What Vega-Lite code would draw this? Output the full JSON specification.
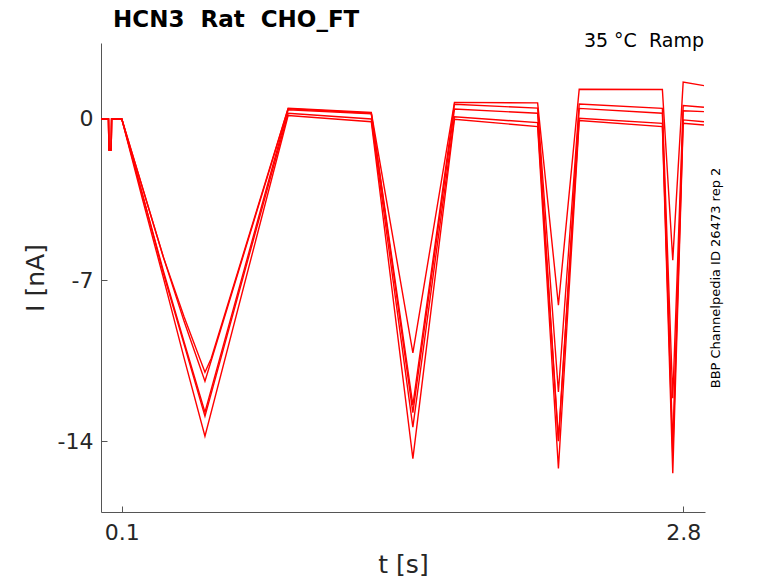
{
  "$schema": "https://vega.github.io/schema/vega-lite/v6.json",
  "width": 604,
  "height": 469,
  "autosize": "none",
  "padding": {"left": 101, "top": 43, "right": 73, "bottom": 71},
  "background": "white",
  "data": {
    "values": [
      {"trace": "A", "t": 0, "I": 0}, {"trace": "A", "t": 0.036, "I": 0}, {"trace": "A", "t": 0.038, "I": -1.35}, {"trace": "A", "t": 0.049, "I": -1.35}, {"trace": "A", "t": 0.051, "I": 0},
      {"trace": "A", "t": 0.1, "I": 0}, {"trace": "A", "t": 0.2, "I": -3.0}, {"trace": "A", "t": 0.3, "I": -6.0}, {"trace": "A", "t": 0.4, "I": -8.6}, {"trace": "A", "t": 0.5, "I": -11.0},
      {"trace": "A", "t": 0.53, "I": -10.4}, {"trace": "A", "t": 0.9, "I": 0.47}, {"trace": "A", "t": 1.3, "I": 0.28}, {"trace": "A", "t": 1.5, "I": -10.16}, {"trace": "A", "t": 1.7, "I": 0.72}, {"trace": "A", "t": 2.1, "I": 0.7},
      {"trace": "A", "t": 2.2, "I": -8.09}, {"trace": "A", "t": 2.3, "I": 1.29}, {"trace": "A", "t": 2.7, "I": 1.28}, {"trace": "A", "t": 2.75, "I": -6.13}, {"trace": "A", "t": 2.8, "I": 1.6}, {"trace": "A", "t": 2.9, "I": 1.45},

      {"trace": "B", "t": 0, "I": 0}, {"trace": "B", "t": 0.036, "I": 0}, {"trace": "B", "t": 0.038, "I": -1.3}, {"trace": "B", "t": 0.049, "I": -1.3}, {"trace": "B", "t": 0.051, "I": 0},
      {"trace": "B", "t": 0.1, "I": 0}, {"trace": "B", "t": 0.2, "I": -3.0}, {"trace": "B", "t": 0.3, "I": -6.0}, {"trace": "B", "t": 0.4, "I": -8.8}, {"trace": "B", "t": 0.5, "I": -11.39},
      {"trace": "B", "t": 0.9, "I": 0.44}, {"trace": "B", "t": 1.3, "I": 0.25}, {"trace": "B", "t": 1.5, "I": -12.43}, {"trace": "B", "t": 1.7, "I": 0.64}, {"trace": "B", "t": 2.1, "I": 0.47},
      {"trace": "B", "t": 2.2, "I": -11.86}, {"trace": "B", "t": 2.3, "I": 0.65}, {"trace": "B", "t": 2.7, "I": 0.46}, {"trace": "B", "t": 2.75, "I": -12.13}, {"trace": "B", "t": 2.8, "I": 0.58}, {"trace": "B", "t": 2.9, "I": 0.51},

      {"trace": "C", "t": 0, "I": 0}, {"trace": "C", "t": 0.036, "I": 0}, {"trace": "C", "t": 0.038, "I": -1.3}, {"trace": "C", "t": 0.049, "I": -1.3}, {"trace": "C", "t": 0.051, "I": 0},
      {"trace": "C", "t": 0.1, "I": 0}, {"trace": "C", "t": 0.2, "I": -3.3}, {"trace": "C", "t": 0.3, "I": -6.6}, {"trace": "C", "t": 0.4, "I": -9.7}, {"trace": "C", "t": 0.5, "I": -12.74},
      {"trace": "C", "t": 0.9, "I": 0.4}, {"trace": "C", "t": 1.3, "I": 0.22}, {"trace": "C", "t": 1.5, "I": -12.75}, {"trace": "C", "t": 1.7, "I": 0.43}, {"trace": "C", "t": 2.1, "I": 0.25},
      {"trace": "C", "t": 2.2, "I": -13.96}, {"trace": "C", "t": 2.3, "I": 0.46}, {"trace": "C", "t": 2.7, "I": 0.25}, {"trace": "C", "t": 2.75, "I": -14.26}, {"trace": "C", "t": 2.8, "I": 0.36}, {"trace": "C", "t": 2.9, "I": 0.32},

      {"trace": "D", "t": 0, "I": 0}, {"trace": "D", "t": 0.036, "I": 0}, {"trace": "D", "t": 0.038, "I": -1.35}, {"trace": "D", "t": 0.049, "I": -1.35}, {"trace": "D", "t": 0.051, "I": 0},
      {"trace": "D", "t": 0.1, "I": 0}, {"trace": "D", "t": 0.2, "I": -3.3}, {"trace": "D", "t": 0.3, "I": -6.7}, {"trace": "D", "t": 0.4, "I": -9.8}, {"trace": "D", "t": 0.5, "I": -12.91},
      {"trace": "D", "t": 0.9, "I": 0.25}, {"trace": "D", "t": 1.3, "I": 0.0}, {"trace": "D", "t": 1.5, "I": -13.38}, {"trace": "D", "t": 1.7, "I": 0.1}, {"trace": "D", "t": 2.1, "I": -0.16},
      {"trace": "D", "t": 2.2, "I": -14.0}, {"trace": "D", "t": 2.3, "I": 0.03}, {"trace": "D", "t": 2.7, "I": -0.19}, {"trace": "D", "t": 2.75, "I": -14.6}, {"trace": "D", "t": 2.8, "I": -0.04}, {"trace": "D", "t": 2.9, "I": -0.12},

      {"trace": "E", "t": 0, "I": 0}, {"trace": "E", "t": 0.036, "I": 0}, {"trace": "E", "t": 0.038, "I": -1.35}, {"trace": "E", "t": 0.049, "I": -1.35}, {"trace": "E", "t": 0.051, "I": 0},
      {"trace": "E", "t": 0.1, "I": 0}, {"trace": "E", "t": 0.2, "I": -3.5}, {"trace": "E", "t": 0.3, "I": -6.9}, {"trace": "E", "t": 0.4, "I": -10.4}, {"trace": "E", "t": 0.5, "I": -13.78},
      {"trace": "E", "t": 0.9, "I": 0.15}, {"trace": "E", "t": 1.3, "I": -0.12}, {"trace": "E", "t": 1.5, "I": -14.75}, {"trace": "E", "t": 1.7, "I": -0.01}, {"trace": "E", "t": 2.1, "I": -0.33},
      {"trace": "E", "t": 2.2, "I": -15.18}, {"trace": "E", "t": 2.3, "I": -0.07}, {"trace": "E", "t": 2.7, "I": -0.33}, {"trace": "E", "t": 2.75, "I": -15.39}, {"trace": "E", "t": 2.8, "I": -0.19}, {"trace": "E", "t": 2.9, "I": -0.26}
    ]
  },
  "layer": [
    {
      "mark": {"type": "line", "color": "#ff0000", "strokeWidth": 1.4, "clip": true},
      "encoding": {
        "x": {
          "field": "t",
          "type": "quantitative",
          "scale": {"domain": [0, 2.905], "nice": false, "zero": false},
          "axis": {
            "values": [0.1, 2.8],
            "format": ".1f",
            "title": "t [s]",
            "labelPadding": 16,
            "titlePadding": 9
          }
        },
        "y": {
          "field": "I",
          "type": "quantitative",
          "scale": {"domain": [-17.07, 3.3], "nice": false, "zero": false},
          "axis": {
            "values": [-14, -7, 0],
            "labelExpr": "'' + datum.value",
            "title": "I [nA]",
            "labelPadding": 14,
            "titlePadding": 9
          }
        },
        "detail": {"field": "trace", "type": "nominal"}
      }
    },
    {
      "data": {"values": [{}]},
      "mark": {"type": "text", "align": "right", "baseline": "alphabetic", "fontSize": 19, "color": "black"},
      "encoding": {
        "x": {"datum": 2.9, "type": "quantitative"},
        "y": {
          "datum": 3.11,
          "type": "quantitative",
          "axis": {
            "orient": "right",
            "title": "BBP Channelpedia ID 26473 rep 2",
            "titleAngle": 270,
            "titleBaseline": "top",
            "titlePadding": 4,
            "titleFontSize": 13,
            "titleColor": "black",
            "labels": false,
            "ticks": false,
            "domain": false
          }
        },
        "text": {"value": "35 °C\u00a0\u00a0Ramp"}
      }
    },
    {
      "data": {"values": [{}]},
      "mark": {"type": "text", "align": "left", "baseline": "alphabetic", "fontSize": 23, "fontWeight": "bold", "color": "black"},
      "encoding": {
        "x": {"datum": 0.058, "type": "quantitative"},
        "y": {"datum": 4.0, "type": "quantitative", "axis": null},
        "text": {"value": "HCN3\u00a0\u00a0Rat\u00a0\u00a0CHO_FT"}
      }
    }
  ],
  "resolve": {"axis": {"y": "independent"}},
  "config": {
    "font": "DejaVu Sans",
    "view": {"stroke": null},
    "axis": {
      "grid": false,
      "domainColor": "#555555",
      "tickColor": "#555555",
      "tickSize": -6,
      "labelFontSize": 22,
      "labelColor": "#262626",
      "titleFontSize": 25,
      "titleFontWeight": "normal",
      "titleColor": "#262626"
    }
  }
}
